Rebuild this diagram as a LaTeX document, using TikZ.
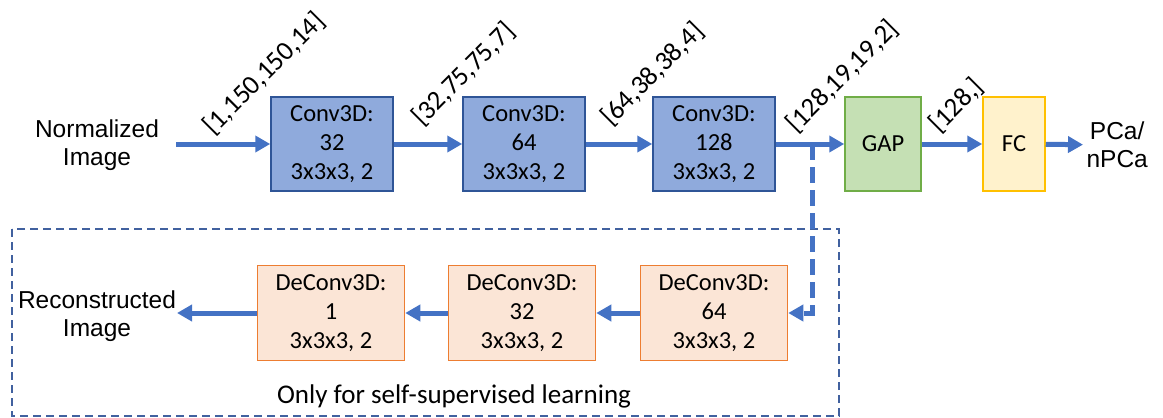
\documentclass[tikz,border=0pt]{standalone}
\usepackage{fontspec}
\setmainfont{Carlito}
\newfontfamily\arialfont{Liberation Sans}
\usetikzlibrary{arrows.meta}

\definecolor{convfill}{HTML}{8FAADC}
\definecolor{convline}{HTML}{2F5597}
\definecolor{gapfill}{HTML}{C5E0B4}
\definecolor{gapline}{HTML}{70AD47}
\definecolor{fcfill}{HTML}{FFF2CC}
\definecolor{fcline}{HTML}{FFC000}
\definecolor{defill}{HTML}{FBE5D6}
\definecolor{deline}{HTML}{ED7D31}
\definecolor{arrowblue}{HTML}{4472C4}
\definecolor{frameblue}{HTML}{41619F}

\tikzset{
  layer/.style={draw, line width=1.5pt, inner sep=0pt, align=center,
    font=\fontsize{24.5}{29}\selectfont},
  convbox/.style={layer, fill=convfill, draw=convline, minimum width=122pt, minimum height=94pt},
  gapbox/.style={layer, fill=gapfill, draw=gapline, minimum width=76pt, minimum height=94pt},
  fcbox/.style={layer, fill=fcfill, draw=fcline, minimum width=62pt, minimum height=94pt},
  debox/.style={layer, fill=defill, draw=deline, minimum width=147pt, minimum height=95pt},
  flow/.style={draw=arrowblue, line width=5pt,
    -{Triangle[length=15pt,width=16pt]}},
  skipflow/.style={flow, dash pattern=on 16pt off 7pt},
  outer/.style={align=center, font=\arialfont\fontsize{24.5}{28}\selectfont},
  shape label/.style={rotate=45, anchor=base west, inner sep=0pt,
    font=\fontsize{27}{30}\selectfont},
}

\begin{document}
\begin{tikzpicture}[x=1pt,y=-1pt]
\useasboundingbox (0,0) rectangle (1163,418);

% encoder path
\node[outer] (in) at (97,145) {Normalized\\Image};
\node[convbox] (c1) at (332,144) {Conv3D:\\32\\3x3x3, 2};
\node[convbox] (c2) at (524,144) {Conv3D:\\64\\3x3x3, 2};
\node[convbox] (c3) at (714,144) {Conv3D:\\128\\3x3x3, 2};
\node[gapbox] (gap) at (883,144) {GAP};
\node[fcbox] (fc) at (1014,144) {FC};
\node[outer, anchor=west] (out) at (1083,145) {PCa/\\nPCa};

\coordinate (in0) at (176,144);
\draw[flow] (in0) -- (c1);
\draw[flow] (c1) -- (c2);
\draw[flow] (c2) -- (c3);
\draw[flow] (c3) -- (gap);
\draw[flow] (gap) -- (fc);
\draw[flow] (fc) -- (out);

% tensor shapes
\node[shape label] (s1) at (213,136) {[1,150,150,14]};
\node[shape label] (s2) at (422,127) {[32,75,75,7]};
\node[shape label] (s3) at (611,127) {[64,38,38,4]};
\node[shape label] (s4) at (796,134) {[128,19,19,2]};
\node[shape label] (s5) at (939,134) {[128,]};

% decoder path (self-supervised branch)
\draw[frameblue, line width=1.3pt, dash pattern=on 8pt off 5pt]
  (12,229) rectangle (839,416);
\node[debox] (d3) at (714,313) {DeConv3D:\\64\\3x3x3, 2};
\node[debox] (d2) at (522,313) {DeConv3D:\\32\\3x3x3, 2};
\node[debox] (d1) at (331,313) {DeConv3D:\\1\\3x3x3, 2};
\node[outer] (rec) at (97,316) {Reconstructed\\Image};
\node[font=\fontsize{27}{30}\selectfont] (note) at (454,396) {Only for self-supervised learning};

\coordinate (branch) at (812,144);
\coordinate (turn) at (812,313);
\draw[skipflow] (branch) -- (turn) -- (d3.east);
\draw[flow] (d3) -- (d2);
\draw[flow] (d2) -- (d1);
\coordinate (rec0) at (177,313);
\draw[flow] (d1) -- (rec0);
\end{tikzpicture}
\end{document}
